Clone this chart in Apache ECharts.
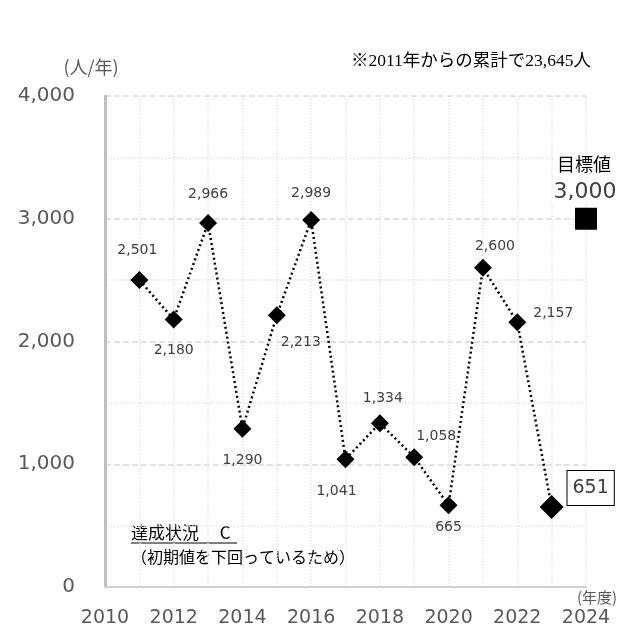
<!DOCTYPE html>
<html><head><meta charset="utf-8">
<script src="https://cdn.jsdelivr.net/npm/echarts@6/dist/echarts.min.js"></script>
<style>html,body{margin:0;padding:0;background:#fff}#c{width:636px;height:631px}</style>
</head><body><div id="c"></div>
<script>
var years = [2011,2012,2013,2014,2015,2016,2017,2018,2019,2020,2021,2022,2023];
var values = [2501,2180,2966,1290,2213,2989,1041,1334,1058,665,2600,2157,651];
var targetYear = 2024;
var targetValue = 3000;
var yTicks = [0,1000,2000,3000,4000];
var xTicks = [2010,2012,2014,2016,2018,2020,2022,2024];

// label offsets (layout only), dx, dy relative to the point
var labelOffsets = [[-2,-30],[0,31],[0,-29],[0,32],[24,27],[0,-27],[-9,32],[3,-25],[22,-21],[0,22],[12,-21],[36,-9]];

var FONT = '"DejaVu Sans", "Noto Sans CJK JP", sans-serif';
var CJK = '"Noto Sans CJK JP", "DejaVu Sans", sans-serif';
var chart = echarts.init(document.getElementById('c'));

function fmt(v){ return v.toLocaleString('en-US'); }

var lineData = years.map(function(y,i){
  var item = {value:[y, values[i]]};
  if (i < labelOffsets.length) {
    item.label = {show:true, position:'inside', offset:labelOffsets[i]};
  } else {
    item.symbolSize = 24;
    item.label = {show:true, position:'inside', offset:[39,-19], fontSize:19, color:'#404040',
      borderColor:'#000', borderWidth:1, padding:[8,5,7,5], backgroundColor:'#fff'};
  }
  return item;
});

chart.setOption({
  animation:false,
  textStyle:{fontFamily:FONT},
  grid:{left:105, right:50, top:96, bottom:44},
  xAxis:{type:'value', min:2010, max:2024, interval:2,
    axisLine:{show:true, lineStyle:{color:'#d0d0d0', width:2}},
    axisTick:{show:false},
    axisLabel:{fontSize:19, color:'#595959', margin:22, fontFamily:FONT,
      formatter:function(v){return xTicks.indexOf(v)>=0 ? String(v) : '';}},
    splitLine:{show:true, lineStyle:{color:'#e6e6e6', type:'dotted', width:1.5}},
    minorTick:{show:false, splitNumber:2},
    minorSplitLine:{show:true, lineStyle:{color:'#e6e6e6', type:'dotted', width:1.5}}
  },
  yAxis:{type:'value', min:0, max:4000, interval:1000,
    axisLine:{show:true, lineStyle:{color:'#bfbfbf', width:3}},
    axisTick:{show:false},
    axisLabel:{fontSize:20, color:'#595959', margin:30, fontFamily:FONT,
      formatter:function(v){return yTicks.indexOf(v)>=0 ? fmt(v) : '';}},
    splitLine:{show:true, lineStyle:{color:'#d9d9d9', type:[6,3], width:1.5}},
    minorTick:{show:false, splitNumber:2},
    minorSplitLine:{show:true, lineStyle:{color:'#e6e6e6', type:'dotted', width:1.5}}
  },
  series:[
    {type:'line', data:lineData, symbol:'diamond', symbolSize:18,
      itemStyle:{color:'#000'},
      lineStyle:{color:'#000', width:2.5, type:[2,3]},
      label:{show:true, fontSize:14, color:'#404040', fontFamily:FONT,
        formatter:function(p){return fmt(p.value[1]);}},
      z:5},
    {type:'scatter', data:[[targetYear, targetValue]], symbol:'rect', symbolSize:22,
      itemStyle:{color:'#000', opacity:1}, clip:false, z:6}
  ],
  graphic:[
    {type:'text', x:91, y:67, style:{text:'(人/年)', font:'18px '+CJK, fill:'#595959', align:'center', verticalAlign:'middle'}},
    {type:'text', x:471, y:61, style:{text:'※2011年からの累計で23,645人', font:'17.5px "Liberation Serif", "Noto Sans CJK JP", serif', fill:'#000', align:'center', verticalAlign:'middle'}},
    {type:'text', x:584, y:164, z:10, style:{text:'目標値', font:'18px '+CJK, fill:'#000', align:'center', verticalAlign:'middle', backgroundColor:'#fff', padding:[1,2]}},
    {type:'text', x:585, y:192, z:10, style:{text:fmt(targetValue), font:'22px '+FONT, fill:'#404040', align:'center', verticalAlign:'middle', backgroundColor:'#fff', padding:[1,2]}},
    {type:'text', x:131, y:533, style:{text:'達成状況　 C', font:'17px '+CJK, fill:'#000', verticalAlign:'middle'}},
    {type:'line', shape:{x1:131, y1:543, x2:237, y2:543}, style:{stroke:'#000', lineWidth:1}},
    {type:'text', x:131, y:557, style:{text:'（初期値を下回っているため）', font:'16px '+CJK, fill:'#000', verticalAlign:'middle'}},
    {type:'text', x:597, y:597, style:{text:'(年度)', font:'15px '+CJK, fill:'#595959', align:'center', verticalAlign:'middle'}}
  ]
});
</script></body></html>
